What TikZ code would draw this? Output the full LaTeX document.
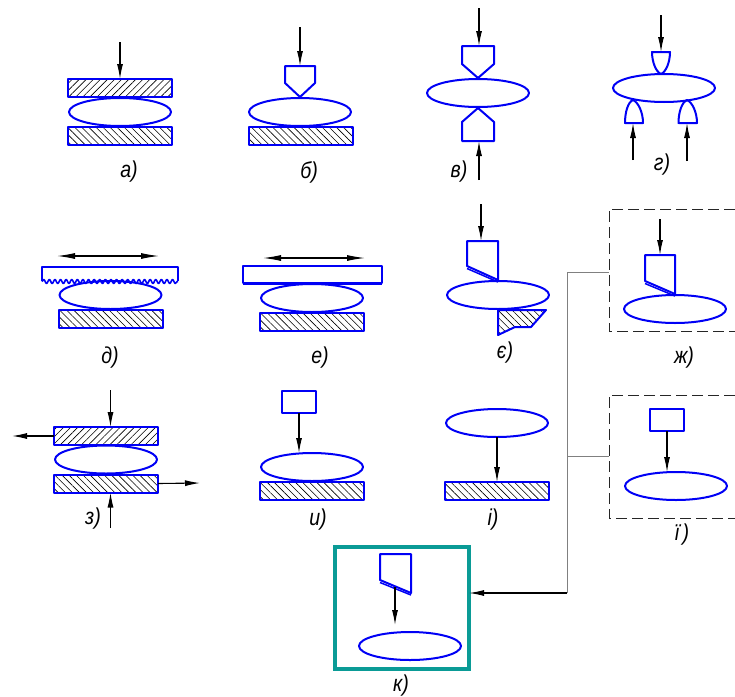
\documentclass[tikz,border=0pt]{standalone}
\usepackage{fontspec}
\setmainfont{Liberation Sans}
\usetikzlibrary{arrows.meta,patterns.meta,shapes.geometric,decorations.pathmorphing}
\definecolor{partblue}{RGB}{0,0,245}
\definecolor{frameteal}{RGB}{10,155,150}
\newcommand{\lab}[1]{\scalebox{.85}[1]{#1}}
\tikzset{
  part/.style={draw=partblue,line width=2pt,line join=round},
  oval/.style={part,ellipse,minimum width=102pt,minimum height=28pt,inner sep=0pt,outer sep=0pt},
  bar/.style={part,rectangle,minimum width=104pt,minimum height=18pt,inner sep=0pt,outer sep=0pt,
    pattern={Lines[angle=-45,distance=5pt,line width=.6pt]}},
  barup/.style={part,rectangle,minimum width=104pt,minimum height=18pt,inner sep=0pt,outer sep=0pt,
    pattern={Lines[angle=45,distance=5pt,line width=.6pt]}},
  hatched/.style={part,pattern={Lines[angle=-45,distance=5pt,line width=.6pt]}},
  smallbox/.style={part,rectangle,minimum width=34pt,minimum height=22pt,inner sep=0pt,outer sep=0pt},
  force/.style={draw=black,line width=1.1pt,-{Latex[length=15pt,width=6pt]}},
  force2/.style={draw=black,line width=1.1pt,{Latex[length=18pt,width=6pt]}-{Latex[length=18pt,width=6pt]}},
  lead/.style={draw=black!50,line width=1pt},
  dframe/.style={draw=black!85,line width=.8pt,dash pattern=on 11pt off 5pt},
  tag/.style={inner sep=0pt,font=\fontsize{23}{25}\selectfont\itshape},
}
\begin{document}
\begin{tikzpicture}[x=1pt,y=-1pt]
\useasboundingbox (0,0) rectangle (735,696);
% a
\node[barup] (aT) at (120,88) {};
\node[oval] (aE) at (120,112) {};
\node[bar] (aB) at (120,136) {};
\coordinate (aF) at (120,42);
\draw[force] (aF) -- (aT.north);
\node[tag] (aL) at (129,172) {\lab{а)}};
% b
\node[oval] (bE) at (300,112) {};
\node[bar] (bB) at (301,136) {};
\draw[part] (285,66) -- (315,66) -- (315,83) -- (300,97) -- (285,83) -- cycle;
\coordinate (bP) at (300,66);
\coordinate (bF) at (300,27);
\draw[force] (bF) -- (bP);
\node[tag] (bL) at (309,172) {\lab{б)}};
% v
\node[oval] (vE) at (478,93) {};
\draw[part] (462,46) -- (494,46) -- (494,64) -- (478,78) -- (462,64) -- cycle;
\draw[part] (462,141) -- (494,141) -- (494,122) -- (478,108) -- (462,122) -- cycle;
\coordinate (vP1) at (479,46); \coordinate (vP2) at (479,141);
\coordinate (vF1) at (479,8); \coordinate (vF2) at (479,180);
\draw[force] (vF1) -- (vP1);
\draw[force] (vF2) -- (vP2);
\node[tag] (vL) at (459,172) {\lab{в)}};
% g
\node[oval] (gE) at (664,88) {};
\draw[part] (652,52) -- (670,52) .. controls (670,62) and (666,72) .. (661,74) .. controls (656,72) and (652,62) .. (652,52) -- cycle;
\draw[part] (625,123) -- (643,123) .. controls (643,112) and (638,102) .. (633,100) .. controls (628,102) and (625,112) .. (625,123) -- cycle;
\draw[part] (678.5,123) -- (697,123) .. controls (697,112) and (692,102) .. (687,100) .. controls (682,102) and (678.5,112) .. (678.5,123) -- cycle;
\coordinate (gP1) at (661,52); \coordinate (gP2) at (633,123); \coordinate (gP3) at (687,123);
\coordinate (gF1) at (661,15); \coordinate (gF2) at (633,160); \coordinate (gF3) at (687,161);
\draw[force] (gF1) -- (gP1);
\draw[force] (gF2) -- (gP2);
\draw[force] (gF3) -- (gP3);
\node[tag] (gL) at (662,165) {\lab{г)}};
% d
\draw[part] (42,281) -- (42,267) -- (178,267) -- (178,281);
\draw[part,line width=1.6pt,decorate,decoration={snake,segment length=5.6pt,amplitude=2pt}] (42,281.5) -- (178,281.5);
\node[oval] (dE) at (110.5,295) {};
\node[bar] (dB) at (111,319) {};
\coordinate (dF1) at (57,256); \coordinate (dF2) at (159,256);
\draw[force2] (dF1) -- (dF2);
\node[tag] (dL) at (110,358) {\lab{д)}};
% e
\node[part,rectangle,minimum width=139pt,minimum height=17pt,inner sep=0pt] (eP) at (312.5,274.5) {};
\draw[draw=partblue,line width=3pt] (243,283) -- (382,283);
\node[oval] (eE) at (312,298) {};
\node[bar] (eB) at (312,321.5) {};
\coordinate (eF1) at (263,258); \coordinate (eF2) at (365,258);
\draw[force2] (eF1) -- (eF2);
\node[tag] (eL) at (320,358) {\lab{е)}};
% ye
\node[oval] (yE) at (498,295) {};
\draw[part] (467,241) -- (498,241) -- (498,280) -- (467,266) -- cycle;
\draw[draw=partblue,line width=1.5pt] (467,268.5) -- (498,282);
\draw[hatched] (498,310) -- (546,310) -- (531,327) -- (515,327) -- (498,335) -- cycle;
\coordinate (yP) at (481,241); \coordinate (yF) at (481,204);
\draw[force] (yF) -- (yP);
\node[tag] (yL) at (505,353) {\lab{є)}};
% zh
\draw[dframe] (735,209) -- (609,209) -- (609,331) -- (735,331);
\node[oval] (zE) at (675,309) {};
\draw[part] (645,255) -- (675,255) -- (675,294) -- (645,281) -- cycle;
\draw[draw=partblue,line width=1.5pt] (645,283.5) -- (675,296);
\coordinate (zP) at (660,255); \coordinate (zF) at (660,219);
\draw[force] (zF) -- (zP);
\node[tag] (zL) at (684,358) {\lab{ж)}};
% yi
\draw[dframe] (735,395) -- (609,395) -- (609,518) -- (735,518);
\node[smallbox] (jB) at (667,420) {};
\node[oval] (jE) at (676,486) {};
\draw[force] (jB.south) -- (jB.south |- jE.north);
\node[tag] (jL) at (682,535) {\lab{ї\,)}};
% z
\node[barup] (hT) at (106,436) {};
\node[oval] (hE) at (106,459.5) {};
\node[bar] (hB) at (106,483.5) {};
\coordinate (hF1) at (110.5,390); \coordinate (hF2) at (110.5,528);
\coordinate (hF3) at (12,436); \coordinate (hF4) at (200,483);
\draw[force] (hF1) -- (hF1 |- hT.north);
\draw[force] (hF2) -- (hF2 |- hB.south);
\draw[force] (hT.west) -- (hF3);
\draw[force] (hB.east) -- (hF4);
\node[tag] (hL) at (93,519) {\lab{з)}};
% y
\node[smallbox] (iB) at (299,402) {};
\node[oval] (iE) at (312,467) {};
\node[bar] (iR) at (312,491) {};
\draw[force] (iB.south) -- (iB.south |- iE.north);
\node[tag] (iL) at (318,520) {\lab{и)}};
% i
\node[oval] (uE) at (497,423) {};
\node[bar] (uR) at (497,491) {};
\draw[force] (uE.south) -- (uR.north);
\node[tag] (uL) at (493,520) {\lab{і)}};
% k
\node[rectangle,draw=frameteal,line width=3.5pt,minimum width=134pt,minimum height=122pt,inner sep=0pt,outer sep=0pt] (kF) at (402,608) {};
\node[oval] (kE) at (410,646) {};
\draw[part] (380,554) -- (411,554) -- (411,593) -- (380,580) -- cycle;
\draw[draw=partblue,line width=1.5pt] (380,582.5) -- (411,595);
\coordinate (kP) at (395,587); \coordinate (kT) at (395,625);
\draw[force] (kP) -- (kT);
\node[tag] (kL) at (401,686) {\lab{к)}};
% leads
\coordinate (lTop) at (567,272); \coordinate (lMid) at (567,456); \coordinate (lBot) at (567,593);
\coordinate (lA) at (609,272); \coordinate (lB) at (609,456);
\draw[lead] (lA) -- (lTop) -- (lBot);
\draw[lead] (lMid) -- (lB);
\draw[force] (lBot) -- (lBot -| kF.east);
\end{tikzpicture}
\end{document}
